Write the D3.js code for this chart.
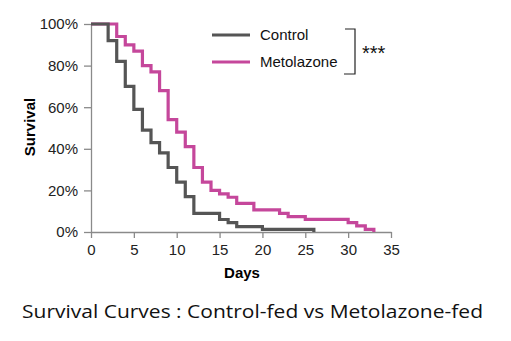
<!DOCTYPE html>
<meta charset="utf-8">
<html>
<head>
    <script src="https://d3js.org/d3.v7.min.js"></script>
</head>
<style>
    body { margin: 0; background: white; }
    text { font-family: Arial, "Liberation Sans", sans-serif; }
</style>
<body>
<div id="chartdiv"></div>
<script>

// survival data (days, percent alive)
const controlDays = [0, 2, 3, 4, 5, 6, 7, 8, 9, 10, 11, 12, 15, 16, 17, 20, 26];
const controlSurv = [100, 92, 82, 70, 59, 49, 43, 38, 31, 24, 17, 9, 6, 4.5, 2.6, 1.3, 0];
const metoDays = [0, 3, 4, 5, 6, 7, 8, 9, 10, 11, 12, 13, 14, 15, 16, 17, 19, 22, 23, 25, 30, 31, 32, 33];
const metoSurv = [100, 94, 90, 87, 80, 77, 68, 54, 48, 41, 31, 24, 20, 18.3, 16.7, 13.8, 10.6, 9, 7.4, 6.1, 4.5, 2.9, 1.3, 0];
const xTicks = [0, 5, 10, 15, 20, 25, 30, 35];
const yTicks = [0, 20, 40, 60, 80, 100];
const seriesNames = ["Control", "Metolazone"];
const seriesColors = ["#555555", "#c5479b"];

const W = 511, H = 341;
const x0 = 91, x1 = 391, yTop = 24, yBot = 232;

const svg = d3.select("#chartdiv").append("svg")
    .attr("width", W).attr("height", H);

const xScale = d3.scaleLinear().domain([0, 35]).range([x0, x1]);
const yScale = d3.scaleLinear().domain([0, 100]).range([yBot, yTop]);

// axes
const axX = svg.append("g")
    .attr("transform", "translate(0," + yBot + ")")
    .call(d3.axisBottom(xScale).tickValues(xTicks).tickSize(6).tickPadding(6).tickSizeOuter(0));
const axY = svg.append("g")
    .attr("transform", "translate(" + x0 + ",0)")
    .call(d3.axisLeft(yScale).tickValues(yTicks).tickSize(7).tickPadding(6).tickSizeOuter(0)
        .tickFormat(d => d + "%"));
[axX, axY].forEach(a => {
    a.select(".domain").attr("stroke", "#8a8a8a").attr("stroke-width", 1.3);
    a.selectAll(".tick line").attr("stroke", "#8a8a8a").attr("stroke-width", 1.3);
    a.selectAll(".tick text").attr("fill", "#222").style("font-size", "15px")
        .style("font-family", "Arial, 'Liberation Sans', sans-serif");
});

// axis titles
svg.append("text").attr("x", 242).attr("y", 278)
    .attr("text-anchor", "middle").style("font-size", "15px").style("font-weight", "bold")
    .text("Days");
svg.append("text").attr("transform", "translate(35,127) rotate(-90)")
    .attr("text-anchor", "middle").style("font-size", "15px").style("font-weight", "bold")
    .text("Survival");

// step curves
const line = d3.line()
    .x(d => xScale(d[0]))
    .y(d => yScale(d[1]))
    .curve(d3.curveStepAfter);

const series = [d3.zip(controlDays, controlSurv), d3.zip(metoDays, metoSurv)];
// draw pink first then control on top
[1, 0].forEach(i => {
    svg.append("path")
        .datum(series[i])
        .attr("fill", "none")
        .attr("stroke", seriesColors[i])
        .attr("stroke-width", 3.2)
        .attr("stroke-linejoin", "miter")
        .attr("d", line);
});

// legend
const legY = [35, 62];
seriesNames.forEach((n, i) => {
    svg.append("line").attr("x1", 212).attr("x2", 250)
        .attr("y1", legY[i]).attr("y2", legY[i])
        .attr("stroke", seriesColors[i]).attr("stroke-width", 3.2);
    svg.append("text").attr("x", 260).attr("y", legY[i] + 5)
        .style("font-size", "15px").attr("fill", "#111").text(n);
});

// significance bracket
svg.append("path")
    .attr("d", "M345,29 H355 V74 H344")
    .attr("fill", "none").attr("stroke", "#222").attr("stroke-width", 1.2);
svg.append("text").attr("x", 362).attr("y", 60)
    .style("font-size", "20px").attr("fill", "#111").text("***");

// caption
svg.append("text").attr("x", 22).attr("y", 318)
    .attr("textLength", 461).attr("lengthAdjust", "spacingAndGlyphs")
    .style("font-family", "'Open Sans', 'Noto Sans', sans-serif").style("font-size", "18px")
    .attr("fill", "#111")
    .text("Survival Curves : Control-fed vs Metolazone-fed");

</script>
</body>
</html>
